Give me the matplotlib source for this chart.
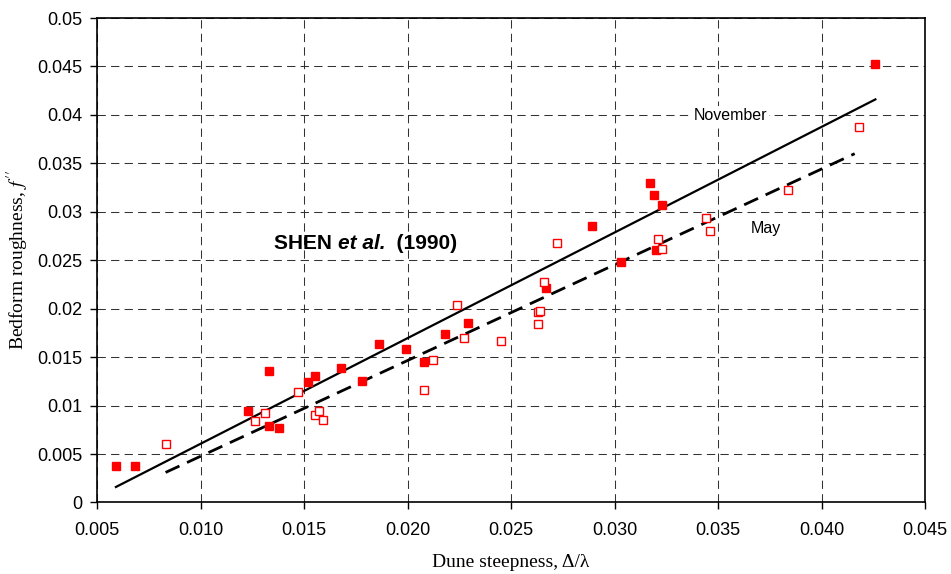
import matplotlib.pyplot as plt
from matplotlib.transforms import offset_copy

# November data (filled squares)
nov_x = [0.0059, 0.0068, 0.0123, 0.0133, 0.0133, 0.0138, 0.0152, 0.0155, 0.0168, 0.0178,
         0.0186, 0.0199, 0.0208, 0.0218, 0.0229, 0.0267, 0.0289, 0.0303, 0.0317, 0.0319,
         0.0323, 0.0320, 0.0426]
nov_y = [0.0038, 0.0038, 0.0094, 0.0136, 0.0079, 0.0077, 0.0124, 0.0131, 0.0139, 0.0125,
         0.0164, 0.0158, 0.0145, 0.0174, 0.0185, 0.0221, 0.0285, 0.0248, 0.0330, 0.0317,
         0.0307, 0.0261, 0.0453]

# May data (open squares)
may_x = [0.0083, 0.0126, 0.0131, 0.0147, 0.0155, 0.0157, 0.0159, 0.0208, 0.0212, 0.0224,
         0.0227, 0.0245, 0.0263, 0.0264, 0.0263, 0.0266, 0.0272, 0.0321, 0.0323, 0.0344,
         0.0346, 0.0384, 0.0418]
may_y = [0.0060, 0.0084, 0.0092, 0.0114, 0.0090, 0.0094, 0.0085, 0.0116, 0.0147, 0.0204,
         0.0170, 0.0167, 0.0197, 0.0198, 0.0184, 0.0228, 0.0268, 0.0272, 0.0262, 0.0294,
         0.0280, 0.0323, 0.0388]

# trend lines (end points)
nov_fit_x = [0.0059, 0.0426]
nov_fit_y = [0.0016, 0.0416]
may_fit_x = [0.0083, 0.0416]
may_fit_y = [0.0031, 0.0360]

xticks = [0.005, 0.010, 0.015, 0.020, 0.025, 0.030, 0.035, 0.040, 0.045]
xtick_labels = ["0.005", "0.010", "0.015", "0.020", "0.025", "0.030", "0.035", "0.040", "0.045"]
yticks = [0, 0.005, 0.01, 0.015, 0.02, 0.025, 0.03, 0.035, 0.04, 0.045, 0.05]
ytick_labels = ["0", "0.005", "0.01", "0.015", "0.02", "0.025", "0.03", "0.035", "0.04", "0.045", "0.05"]

plt.rcParams["font.family"] = "Liberation Sans"
plt.rcParams["mathtext.fontset"] = "stix"

fig = plt.figure(figsize=(9.51, 5.74), dpi=100)
ax = fig.add_axes([0.1023, 0.1246, 0.8704, 0.8440])

ax.set_xlim(0.005, 0.045)
ax.set_ylim(0, 0.05)
ax.set_xticks(xticks)
ax.set_xticklabels(xtick_labels)
ax.set_yticks(yticks)
ax.set_yticklabels(ytick_labels)
ax.tick_params(labelsize=13, direction="out", length=5, width=1, colors="black")
ax.tick_params(axis="y", pad=6)
ax.tick_params(axis="x", pad=9)

ax.grid(True, color="#333333", linestyle=(0, (8, 5)), linewidth=0.75)
ax.set_axisbelow(True)
for s in ax.spines.values():
    s.set_linewidth(1.2)

ax.plot(nov_fit_x, nov_fit_y, color="black", linewidth=1.6, zorder=3)
ax.plot(may_fit_x, may_fit_y, color="black", linewidth=2.0, linestyle=(0, (5.5, 3)), zorder=3)

ax.plot(nov_x, nov_y, linestyle="none", marker="s", markersize=6, color="red",
        markeredgecolor="red", zorder=4)
ax.plot(may_x, may_y, linestyle="none", marker="s", markersize=5.5, markerfacecolor="white",
        markeredgecolor="red", markeredgewidth=1, zorder=5)

box = dict(facecolor="white", edgecolor="none", pad=1.5)
ax.text(0.0356, 0.0399, "November", fontsize=11.5, ha="center", va="center", zorder=6, bbox=box)
ax.text(0.0373, 0.0283, "May", fontsize=11.5, ha="center", va="center", zorder=6, bbox=box)

# "SHEN et al. (1990)" built from pieces: bold, bold italic, bold
fig.canvas.draw()
renderer = fig.canvas.get_renderer()
pieces = [("SHEN ", "normal"), ("et al.", "italic"), ("  (1990)", "normal")]
tx, ty = 0.01354, 0.0262
dx = 0
for s, style in pieces:
    t = ax.text(tx, ty, s, fontsize=15, fontweight="bold", fontstyle=style, ha="left",
                va="baseline", zorder=6,
                transform=offset_copy(ax.transData, fig=fig, x=dx, y=0, units="dots"))
    dx += t.get_window_extent(renderer).width

ax.set_xlabel("Dune steepness, \u0394/\u03bb", fontsize=14, family="Liberation Serif", labelpad=11)
ax.set_ylabel("Bedform roughness, $f\\,''$", fontsize=14, family="Liberation Serif", labelpad=4)

fig.savefig("out.png", dpi=100)
